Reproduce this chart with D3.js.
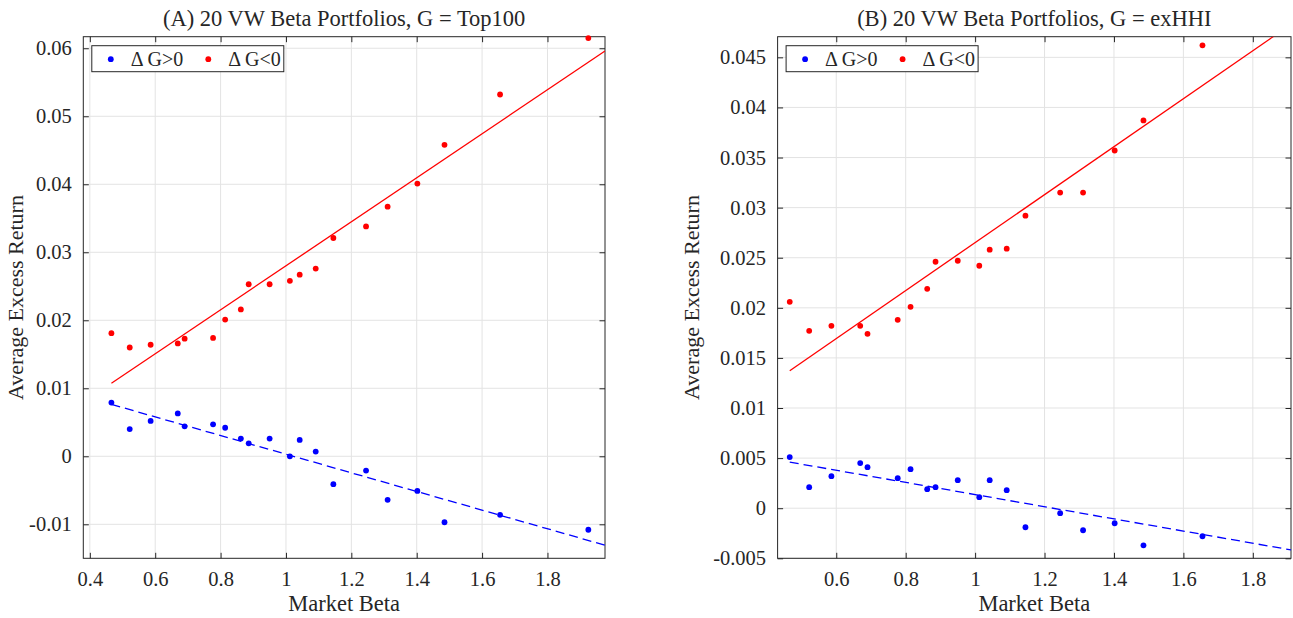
<!DOCTYPE html>
<html lang="en">
<head>
<meta charset="utf-8">
<title>20 VW Beta Portfolios</title>
<script src="https://d3js.org/d3.v7.min.js"></script>
<style>
  body { margin: 0; background: #fff; }
  text { font-family: "Liberation Serif", "Times New Roman", serif; fill: #262626; }
</style>
</head>
<body>
<script>
// market betas of the beta-sorted portfolios (panel B shows 19 of them)
var betaA = [0.466, 0.522, 0.586, 0.669, 0.690, 0.777, 0.814, 0.862, 0.886, 0.950,
             1.012, 1.042, 1.091, 1.145, 1.245, 1.311, 1.402, 1.485, 1.655, 1.925]
var betaB = [0.466, 0.522, 0.586, 0.669, 0.690, 0.777, 0.814, 0.862, 0.886, 0.950,
             1.012, 1.042, 1.091, 1.145, 1.245, 1.311, 1.402, 1.485, 1.655]

// average excess returns, Delta G > 0 (blue) and Delta G < 0 (red)
var upA   = [0.0079, 0.0040, 0.0052, 0.0063, 0.0044, 0.0047, 0.0042, 0.0026, 0.0019, 0.0026,
             0.0000, 0.0024, 0.0007, -0.0041, -0.0021, -0.0064, -0.0051, -0.0097, -0.0086, -0.0108]
var downA = [0.0181, 0.0160, 0.0164, 0.0166, 0.0173, 0.0174, 0.0201, 0.0216, 0.0253, 0.0253,
             0.0258, 0.0267, 0.0276, 0.0321, 0.0338, 0.0367, 0.0401, 0.0458, 0.0532, 0.0615]
var upB   = [0.0051, 0.0021, 0.0032, 0.0045, 0.0041, 0.0030, 0.0039, 0.0019, 0.0021, 0.0028,
             0.0011, 0.0028, 0.0018, -0.0019, -0.0005, -0.0022, -0.0015, -0.0037, -0.0028]
var downB = [0.0206, 0.0177, 0.0182, 0.0182, 0.0174, 0.0188, 0.0201, 0.0219, 0.0246, 0.0247,
             0.0242, 0.0258, 0.0259, 0.0292, 0.0315, 0.0315, 0.0357, 0.0387, 0.0462]

// fitted lines [intercept, slope]
var fitUpA = [0.01402, -0.01371], fitDownA = [-0.00435, 0.03236]
var fitUpB = [0.00743, -0.00607], fitDownB = [0.00257, 0.02394]

var titles = ["(A) 20 VW Beta Portfolios, G = Top100", "(B) 20 VW Beta Portfolios, G = exHHI"]
var xTicksA = [0.4, 0.6, 0.8, 1, 1.2, 1.4, 1.6, 1.8]
var xTicksB = [0.6, 0.8, 1, 1.2, 1.4, 1.6, 1.8]
var yTicksA = [-0.01, 0, 0.01, 0.02, 0.03, 0.04, 0.05, 0.06]
var yTicksB = [-0.005, 0, 0.005, 0.01, 0.015, 0.02, 0.025, 0.03, 0.035, 0.04, 0.045]
var legendLabels = ["\u0394 G>0", "\u0394 G<0"]

var W = 1293, H = 618
var svg = d3.select("body").append("svg").attr("width", W).attr("height", H)

var panels = [
  {left: 83.3, right: 605, xd: [0.380, 1.976], yd: [-0.015, 0.0617], ylab: 23,
   beta: betaA, up: upA, down: downA, fitUp: fitUpA, fitDown: fitDownA,
   xt: xTicksA, yt: yTicksA, title: titles[0]},
  {left: 777.6, right: 1291, xd: [0.431, 1.910], yd: [-0.005, 0.04706], ylab: 699,
   beta: betaB, up: upB, down: downB, fitUp: fitUpB, fitDown: fitDownB,
   xt: xTicksB, yt: yTicksB, title: titles[1]}
]
var plotTop = 36.7, plotBottom = 558.3

function fmt(v) { return String(+v.toFixed(4)) }

panels.forEach(function(p, k) {
  var x = d3.scaleLinear().domain(p.xd).range([p.left, p.right])
  var y = d3.scaleLinear().domain(p.yd).range([plotBottom, plotTop])
  var g = svg.append("g")

  g.append("clipPath").attr("id", "clip" + k)
    .append("rect").attr("x", p.left).attr("y", plotTop)
    .attr("width", p.right - p.left).attr("height", plotBottom - plotTop)

  // grid
  g.selectAll(".gx").data(p.xt).enter().append("line")
    .attr("x1", function(d) { return x(d) }).attr("x2", function(d) { return x(d) })
    .attr("y1", plotTop).attr("y2", plotBottom)
    .attr("stroke", "#e3e3e3").attr("stroke-width", 1)
  g.selectAll(".gy").data(p.yt).enter().append("line")
    .attr("y1", function(d) { return y(d) }).attr("y2", function(d) { return y(d) })
    .attr("x1", p.left).attr("x2", p.right)
    .attr("stroke", "#e3e3e3").attr("stroke-width", 1)

  // axes with inward ticks on all sides
  var tl = 5.5
  g.append("g").attr("transform", "translate(0," + plotBottom + ")")
    .call(d3.axisBottom(x).tickValues(p.xt).tickFormat(fmt).tickSizeInner(-tl).tickSizeOuter(0).tickPadding(13))
  g.append("g").attr("transform", "translate(0," + plotTop + ")")
    .call(d3.axisTop(x).tickValues(p.xt).tickFormat("").tickSizeInner(-tl).tickSizeOuter(0))
  g.append("g").attr("transform", "translate(" + p.left + ",0)")
    .call(d3.axisLeft(y).tickValues(p.yt).tickFormat(fmt).tickSizeInner(-tl).tickSizeOuter(0).tickPadding(6 + tl))
  g.append("g").attr("transform", "translate(" + p.right + ",0)")
    .call(d3.axisRight(y).tickValues(p.yt).tickFormat("").tickSizeInner(-tl).tickSizeOuter(0))
  g.selectAll(".domain").remove()
  g.selectAll(".tick line").attr("stroke", "#262626")
  g.selectAll(".tick text").style("font-size", "20.5px").attr("fill", "#262626")
    .style("font-family", "'Liberation Serif', serif")
  g.append("rect").attr("x", p.left).attr("y", plotTop)
    .attr("width", p.right - p.left).attr("height", plotBottom - plotTop)
    .attr("fill", "none").attr("stroke", "#262626").attr("stroke-width", 1)

  // scatter
  var series = [{v: p.up, fit: p.fitUp, c: "#0000ff", dash: "9,5"},
                {v: p.down, fit: p.fitDown, c: "#ff0000", dash: null}]
  series.forEach(function(s) {
    g.selectAll(null).data(p.beta).enter().append("circle")
      .attr("cx", function(d) { return x(d) })
      .attr("cy", function(d, i) { return y(s.v[i]) })
      .attr("r", 2.9).attr("fill", s.c)
  })
  // fitted lines, from the smallest beta to the right edge
  series.forEach(function(s) {
    var x0 = d3.min(p.beta), x1 = p.xd[1]
    g.append("path").attr("clip-path", "url(#clip" + k + ")")
      .attr("d", d3.line()([[x(x0), y(s.fit[0] + s.fit[1] * x0)], [x(x1), y(s.fit[0] + s.fit[1] * x1)]]))
      .attr("stroke", s.c).attr("stroke-width", 1.3).attr("fill", "none")
      .attr("stroke-dasharray", s.dash)
  })

  // legend
  var lx = p.left + 8.5, ly = 45.7
  var lg = g.append("g").attr("transform", "translate(" + lx + "," + ly + ")")
  lg.append("rect").attr("width", 192).attr("height", 26)
    .attr("fill", "#fff").attr("stroke", "#262626").attr("stroke-width", 1)
  series.forEach(function(s, i) {
    lg.append("circle").attr("cx", 19 + i * 97.5).attr("cy", 13.5).attr("r", 2.9).attr("fill", s.c)
    lg.append("text").attr("x", 39 + i * 97.5).attr("y", 20.5)
      .style("font-size", "20px").text(legendLabels[i])
  })

  // title and axis labels
  var cx = (p.left + p.right) / 2
  g.append("text").attr("x", cx).attr("y", 26).attr("text-anchor", "middle")
    .style("font-size", "22.5px").text(p.title)
  g.append("text").attr("x", cx).attr("y", 611).attr("text-anchor", "middle")
    .style("font-size", "22.5px").text("Market Beta")
  g.append("text")
    .attr("transform", "translate(" + p.ylab + "," + ((plotTop + plotBottom) / 2) + ") rotate(-90)")
    .attr("text-anchor", "middle").style("font-size", "22px").text("Average Excess Return")
})
</script>
</body>
</html>
